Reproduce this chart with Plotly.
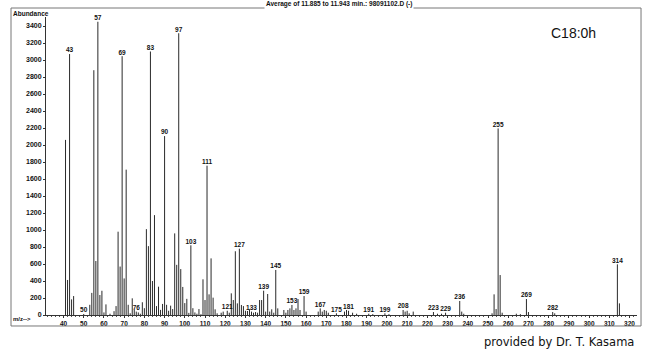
import plotly.graph_objects as go

# ---- data (m/z vs abundance) ----
mz = [41, 42, 43, 44, 45, 50, 53, 54, 55, 56, 57, 58, 59, 60, 61, 63,
      65, 66, 67, 68, 69, 70, 71, 72, 73, 74, 75, 76, 77, 78, 79, 80,
      81, 82, 83, 84, 85, 86, 87, 88, 89, 90, 91, 92, 93, 94, 95, 96,
      97, 98, 99, 100, 101, 102, 103, 104, 105, 106, 107, 108, 109, 110,
      111, 112, 113, 114, 115, 116, 118, 119, 121, 122, 123, 124, 125, 126,
      127, 128, 129, 130, 131, 132, 133, 134, 135, 136, 137, 138, 139, 140,
      141, 142, 143, 144, 145, 146, 149, 150, 151, 152, 153, 154, 155, 156,
      157, 159, 160, 166, 167, 168, 169, 170, 171, 175, 179, 180, 181, 183,
      185, 191, 193, 199, 201, 208, 209, 210, 211, 213, 223, 225, 227, 229,
      236, 237, 238, 252, 253, 254, 255, 256, 257, 264, 266, 269, 270, 282,
      283, 314, 315]
abundance = [2060, 412, 3070, 184, 223, 12, 120, 260, 2880, 635, 3450, 235, 285, 30, 125, 15,
             45, 105, 980, 570, 3045, 430, 1710, 120, 20, 196, 60, 40, 30, 15, 150, 80,
             1010, 810, 3100, 400, 1175, 105, 333, 60, 130, 2105, 120, 50, 110, 70, 960, 590,
             3315, 540, 330, 140, 190, 25, 820, 80, 30, 15, 70, 10, 420, 176,
             1757, 243, 666, 204, 67, 20, 27, 40, 50, 27, 255, 176, 750, 137,
             780, 118, 105, 50, 47, 67, 40, 27, 35, 27, 176, 176, 286, 40,
             247, 40, 67, 27, 530, 78, 59, 27, 59, 78, 118, 59, 78, 188,
             59, 223, 40, 40, 78, 40, 59, 50, 27, 20, 40, 59, 50, 27,
             15, 15, 10, 20, 10, 59, 40, 50, 20, 40, 35, 15, 15, 27,
             165, 40, 15, 20, 243, 70, 2195, 470, 27, 15, 10, 188, 35, 35,
             20, 596, 137]

labelled_mz = [43, 50, 57, 69, 76, 83, 90, 97, 103, 111, 121, 127, 133, 139, 145,
               153, 159, 167, 175, 181, 191, 199, 208, 223, 229, 236, 255, 269, 282, 314]

y_ticks = list(range(0, 3401, 200))
x_ticks = list(range(40, 321, 10))

lookup = dict(zip(mz, abundance))
label_y = [lookup.get(m, 0) for m in labelled_mz]

# stick spectrum: one vertical stem per m/z value, built from the data lists
stem_x, stem_y = [], []
for m, a in zip(mz, abundance):
    stem_x += [m, m, None]
    stem_y += [0, a, None]

fig = go.Figure()
fig.add_trace(go.Scatter(x=stem_x, y=stem_y, mode="lines",
                         line=dict(color="#2a2a2a", width=1),
                         hoverinfo="skip"))
fig.add_trace(go.Scatter(x=labelled_mz, y=label_y, mode="text",
                         text=[str(m) for m in labelled_mz],
                         textposition="top center",
                         textfont=dict(family="Liberation Sans", size=6.5, color="#111"),
                         texttemplate="<b>%{text}</b>",
                         cliponaxis=False,
                         hoverinfo="skip"))

fig.update_layout(
    width=650, height=358,
    margin=dict(l=46, r=13, t=17, b=43),
    paper_bgcolor="white", plot_bgcolor="white",
    showlegend=False,
    font=dict(family="Liberation Sans", color="#111"),
)
fig.update_xaxes(range=[31.34, 323.7], tickvals=x_ticks, ticktext=[f"<b>{t}</b>" for t in x_ticks],
                 tickfont=dict(size=6.5), showgrid=False, zeroline=False,
                 showline=True, linecolor="#333", linewidth=1,
                 ticks="outside", ticklen=2, tickcolor="#333",
                 minor=dict(dtick=2, tick0=0, ticks="outside", ticklen=1, tickcolor="#555"))
fig.update_yaxes(range=[0, 3506], tickvals=y_ticks, ticktext=[f"<b>{t}</b>" for t in y_ticks],
                 tickfont=dict(size=7), showgrid=False, zeroline=False,
                 showline=True, linecolor="#333", linewidth=1,
                 ticks="outside", ticklen=2, tickcolor="#333")

# outer frame
fig.add_shape(type="rect", xref="paper", yref="paper",
              x0=-0.0592, x1=1.0068, y0=-0.0369, y1=1.0302,
              line=dict(color="#777", width=1))

fig.add_annotation(text="<b>Average of 11.885 to 11.943 min.: 98091102.D (-)</b>",
                   xref="paper", yref="paper", x=0.4958, y=1.0436,
                   showarrow=False, font=dict(size=6.5, color="#111"),
                   bgcolor="white", xanchor="center", yanchor="middle")
fig.add_annotation(text="C18:0h", xref="paper", yref="paper", x=0.8934, y=0.9463,
                   showarrow=False, font=dict(size=14, color="#111"),
                   xanchor="center", yanchor="middle")
fig.add_annotation(text="<b>Abundance</b>", xref="paper", yref="paper", x=-0.0592, y=1.0134,
                   showarrow=False, font=dict(size=6.5, color="#111"),
                   xanchor="left", yanchor="middle")
fig.add_annotation(text="<b>m/z--></b>", xref="paper", yref="paper", x=-0.0592, y=-0.012,
                   showarrow=False, font=dict(size=6, color="#111"),
                   xanchor="left", yanchor="middle")
fig.add_annotation(text="provided by Dr. T. Kasama", xref="paper", yref="paper",
                   x=0.9983, y=-0.0906, showarrow=False,
                   font=dict(family="DejaVu Sans", size=11.5, color="#111"),
                   xanchor="right", yanchor="middle")

fig.write_html("out.html", config={"displayModeBar": False},
               post_script="document.body.style.margin='0px';")
